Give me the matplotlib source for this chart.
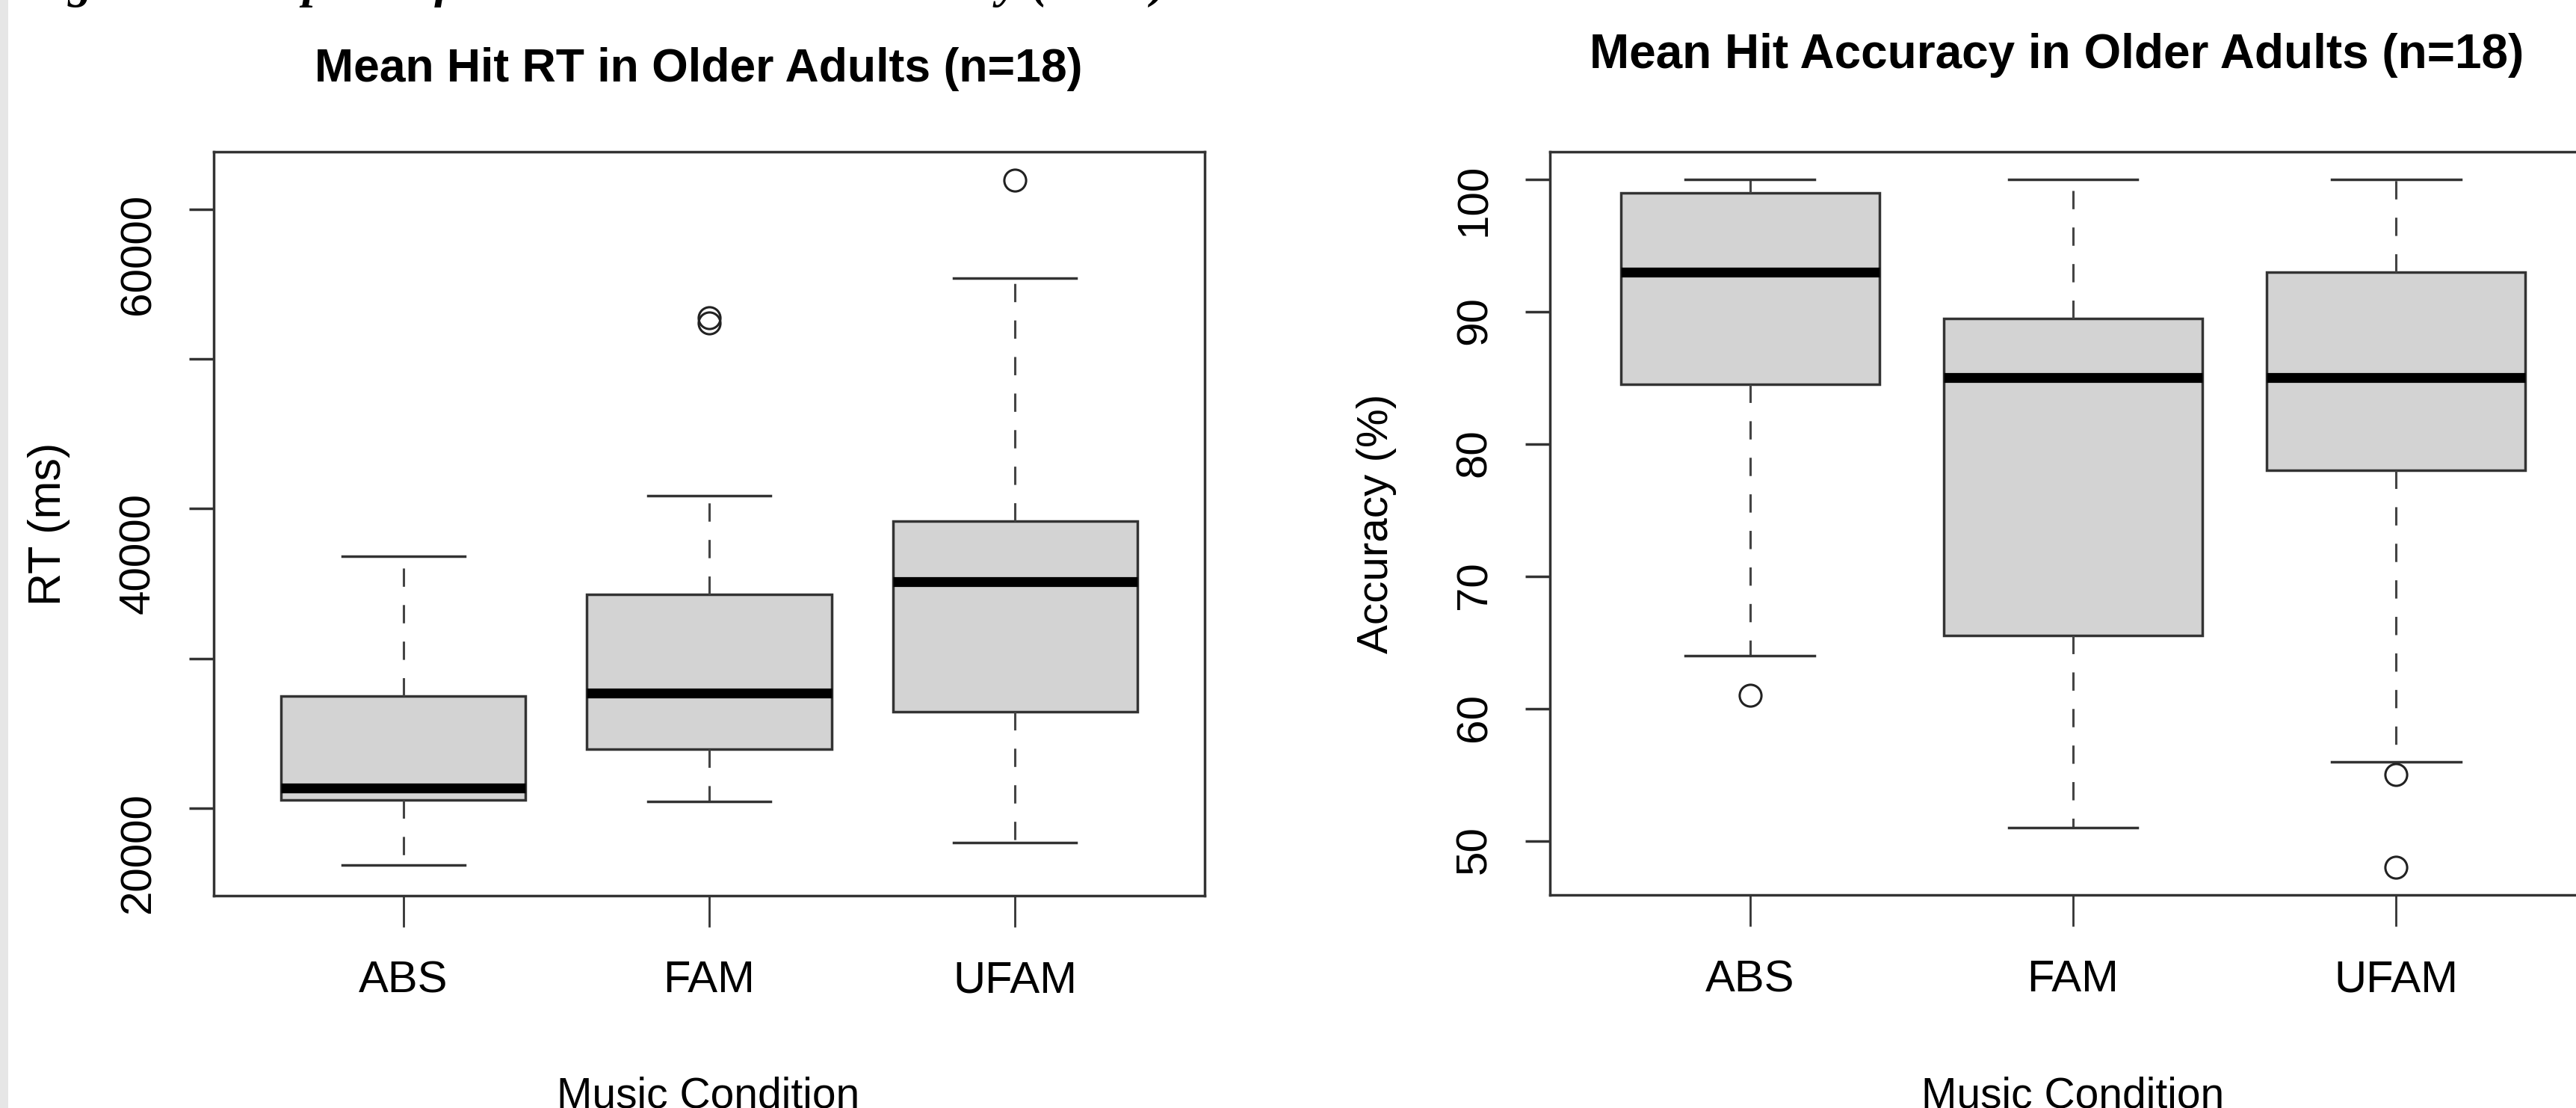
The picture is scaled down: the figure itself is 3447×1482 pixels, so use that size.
import numpy as np
import matplotlib
matplotlib.use('Agg')
import matplotlib.pyplot as plt
from matplotlib.patches import Rectangle

plt.rcParams['font.family'] = ['Liberation Sans', 'DejaVu Sans']

# categories
conditions = ['ABS', 'FAM', 'UFAM']

# mean hit RT (ms)
rt_whislo = [16200, 20450, 17700]
rt_q1 = [20550, 23950, 26450]
rt_med = [21350, 27700, 35150]
rt_q3 = [27500, 34300, 39150]
rt_whishi = [36850, 40850, 55400]
rt_fliers = [[], [52400, 52750], [61950]]

# mean hit accuracy (%)
acc_whislo = [64, 51, 56]
acc_q1 = [84.5, 65.5, 78]
acc_med = [93, 85, 85]
acc_q3 = [99, 89.5, 93]
acc_whishi = [100, 100, 100]
acc_fliers = [[61], [], [55, 48]]

rt_ticks = [20000, 30000, 40000, 50000, 60000]
rt_ticklabels = ['20000', '', '40000', '', '60000']
acc_ticks = [50, 60, 70, 80, 90, 100]

W, H = 3448, 1482


def draw_box(ax, whislo, q1, med, q3, whishi, fliers):
    stats = []
    for i in range(len(conditions)):
        stats.append(dict(whislo=whislo[i], q1=q1[i], med=med[i], q3=q3[i],
                          whishi=whishi[i], fliers=fliers[i], label=conditions[i]))
    ax.bxp(stats, positions=[1, 2, 3], widths=0.8, capwidths=0.4,
           patch_artist=True, showfliers=True,
           boxprops=dict(facecolor='#d3d3d3', edgecolor='#333333', linewidth=2.5),
           medianprops=dict(color='black', linewidth=9.5, solid_capstyle='butt'),
           whiskerprops=dict(color='#444444', linewidth=2.2, linestyle=(0, (8, 8))),
           capprops=dict(color='#333333', linewidth=2.5),
           flierprops=dict(marker='o', markerfacecolor='none', markeredgecolor='#222222',
                           markersize=21, markeredgewidth=2.2))
    ax.set_xlim(0.38, 3.62)
    for s in ax.spines.values():
        s.set_linewidth(2.5)
        s.set_color('#333333')
    ax.tick_params(axis='y', length=24, width=2.5, pad=29, labelsize=42,
                   labelrotation=90, color='#333333')
    ax.tick_params(axis='x', length=30, width=2, pad=32, color='#333333')
    ax.set_xticks([1, 2, 3])
    ax.set_xticklabels(conditions, fontsize=43)


fig = plt.figure(figsize=(W / 100, H / 100), dpi=100)

# left panel: RT
ax1 = fig.add_axes([286 / W, 1 - 1198 / H, (1612 - 286) / W, (1198 - 203) / H])
draw_box(ax1, rt_whislo, rt_q1, rt_med, rt_q3, rt_whishi, rt_fliers)
ax1.set_ylim(14160, 63840)
ax1.set_yticks(rt_ticks)
ax1.set_yticklabels(rt_ticklabels)
ax1.set_ylabel('RT (ms)', fontsize=44, va='center')
ax1.yaxis.set_label_coords((66 - 286) / 1326, 0.5)
ax1.set_xlabel('Music Condition', fontsize=41, va='center')
ax1.xaxis.set_label_coords(0.499, (1198 - 1466) / 995)

# right panel: accuracy (runs past the right edge like the screenshot)
ax2 = fig.add_axes([2074 / W, 1 - 1197 / H, (3474 - 2074) / W, (1197 - 203) / H])
draw_box(ax2, acc_whislo, acc_q1, acc_med, acc_q3, acc_whishi, acc_fliers)
ax2.set_ylim(45.92, 102.08)
ax2.set_yticks(acc_ticks)
ax2.set_yticklabels([str(t) for t in acc_ticks])
ax2.set_ylabel('Accuracy (%)', fontsize=42, va='center')
ax2.yaxis.set_label_coords((1842 - 2074) / 1400, 0.5)
ax2.set_xlabel('Music Condition', fontsize=41, va='center')
ax2.xaxis.set_label_coords(0.5, (1197 - 1466) / 994)

# titles
fig.text(935 / W, 1 - 92 / H, 'Mean Hit RT in Older Adults (n=18)',
         fontsize=45, fontweight='bold', ha='center', va='center')
fig.text(2752 / W, 1 - 74 / H, 'Mean Hit Accuracy in Older Adults (n=18)',
         fontsize=46, fontweight='bold', ha='center', va='center')

# caption cut off at the top of the screenshot: only descenders show
fig.text(30 / W, 1 + 4 / H, 'Figure 3. Boxplots of Mean Hit RT and Accuracy (n=18)',
         fontsize=47, family=['Liberation Serif', 'DejaVu Serif'],
         style='italic', fontweight='bold', ha='left', va='baseline')

# grey page strip on the left edge
fig.patches.append(Rectangle((0, 0), 11 / W, 1, transform=fig.transFigure,
                             facecolor='#e6e6e6', edgecolor='none', zorder=-1))

fig.savefig('out.png', dpi=100)
